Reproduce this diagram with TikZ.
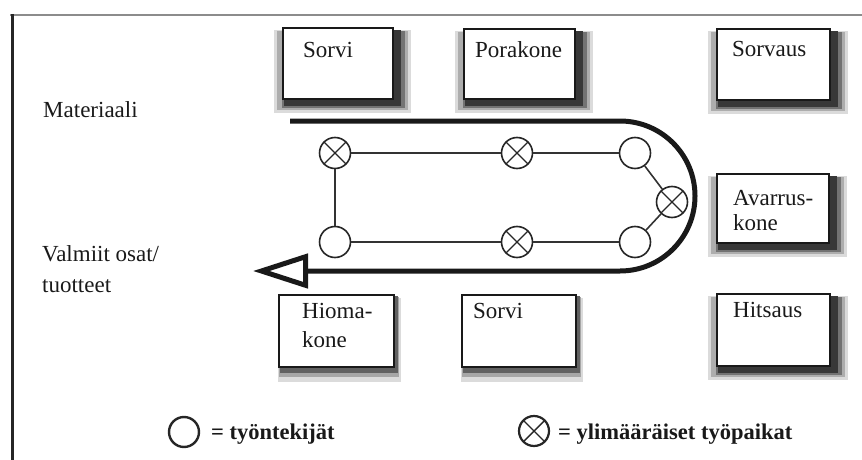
\documentclass[tikz,border=0pt]{standalone}
\usepackage{fontspec}
\setmainfont{Liberation Serif}
\usetikzlibrary{arrows.meta,backgrounds}

\tikzset{
  machine/.style={draw=black!90, line width=2.4pt, fill=white, rectangle, inner sep=0pt},
  lbl/.style={inner sep=0pt, anchor=base west, text=black!90,
    font=\fontsize{23}{28}\selectfont},
  legendtxt/.style={inner sep=0pt, anchor=base west, text=black!90,
    font=\fontsize{22.5}{27}\selectfont\bfseries},
  worker/.style={circle, draw=black!85, line width=1.6pt, fill=white,
    minimum size=31pt, inner sep=0pt},
  extra/.style={worker,
    path picture={
      \draw[black!85, line width=1.4pt]
        ([shift={(-11pt,-11pt)}]path picture bounding box.center) --
        ([shift={(11pt,11pt)}]path picture bounding box.center)
        ([shift={(-11pt,11pt)}]path picture bounding box.center) --
        ([shift={(11pt,-11pt)}]path picture bounding box.center);}},
  link/.style={draw=black!80, line width=1.6pt},
  conveyor/.style={draw=black!90, line width=5pt, line join=miter,
    -{Triangle[open, length=55pt, width=34pt]}},
}

\begin{document}
\begin{tikzpicture}[x=1pt, y=-1pt]
  \useasboundingbox (0,0) rectangle (862,460);

  % frame
  \draw[black!45, line width=1.5pt] (10,15) -- (862,15);
  \draw[black!85, line width=3pt] (12,14) -- (12,460);

  % machines, upper row
  \node[machine, minimum width=110pt, minimum height=71pt] (sorvi1) at (338,63.5) {};
  \node[machine, minimum width=111pt, minimum height=70pt] (pora) at (519.5,64) {};
  \node[machine, minimum width=113pt, minimum height=71pt] (sorvaus) at (773.5,64.5) {};
  % machine on the right
  \node[machine, minimum width=112pt, minimum height=69pt] (avarrus) at (773,208.5) {};
  % machines, lower row
  \node[machine, minimum width=115pt, minimum height=72pt] (hioma) at (336.5,331) {};
  \node[machine, minimum width=114pt, minimum height=72pt] (sorvi2) at (519,331) {};
  \node[machine, minimum width=113pt, minimum height=72pt] (hitsaus) at (773.5,330) {};

  % shadows behind the machines, graded from light (outside) to dark (inside)
  \begin{pgfonlayer}{background}
    \foreach \m in {sorvi1,pora,sorvaus,avarrus,hitsaus}{
      \foreach \ax/\ay/\bx/\by/\g in {-8/-3/17/-13/14, -5/-4/14/-10/32,
                                      0/-4/11/-8/55, 2/-3/7/-6/78}{
        \fill[black!\g] ([xshift=\ax pt, yshift=\ay pt]\m.north west)
          rectangle ([xshift=\bx pt, yshift=\by pt]\m.south east);
      }
    }
    \foreach \m in {hioma,sorvi2}{
      \foreach \ax/\ay/\bx/\by/\g in {0/-4/6/-14/14, 1/-3/4/-9/35, 2/-2/3/-5/62}{
        \fill[black!\g] ([xshift=\ax pt, yshift=\ay pt]\m.north west)
          rectangle ([xshift=\bx pt, yshift=\by pt]\m.south east);
      }
    }
  \end{pgfonlayer}

  % machine names
  \node[lbl] (tsorvi1) at (303,58) {Sorvi};
  \node[lbl] (tpora) at (475,58) {Porakone};
  \node[lbl] (tsorvaus) at (732,57) {Sorvaus};
  \node[lbl] (tavarrus1) at (733,205) {Avarrus-};
  \node[lbl] (tavarrus2) at (733,230) {kone};
  \node[lbl] (thioma1) at (302,318) {Hioma-};
  \node[lbl] (thioma2) at (302,347) {kone};
  \node[lbl] (tsorvi2) at (473,318) {Sorvi};
  \node[lbl] (thitsaus) at (733,317) {Hitsaus};

  % material in and products out
  \node[lbl] (tmat) at (43,117) {Materiaali};
  \node[lbl] (tout1) at (42,261) {Valmiit osat/};
  \node[lbl] (tout2) at (42,292) {tuotteet};

  % material flow
  \coordinate (flowin) at (290,121);
  \coordinate (flowbend) at (620,121);
  \coordinate (flowout) at (253,271);
  \draw[conveyor] (flowin) -- (flowbend)
    arc[start angle=90, end angle=-90, radius=75pt] -- (flowout);

  % work stations
  \node[extra]  (w1) at (335,153) {};
  \node[extra]  (w2) at (517,153) {};
  \node[worker] (w3) at (635,153) {};
  \node[extra]  (w4) at (672,202) {};
  \node[worker] (w5) at (635,242) {};
  \node[extra]  (w6) at (517,242) {};
  \node[worker] (w7) at (335,242) {};

  \draw[link] (w1) -- (w2);
  \draw[link] (w2) -- (w3);
  \draw[link] (w3) -- (w4);
  \draw[link] (w4) -- (w5);
  \draw[link] (w5) -- (w6);
  \draw[link] (w6) -- (w7);
  \draw[link] (w7) -- (w1);

  % legend
  \node[worker, line width=2.4pt, minimum size=30pt] (keyw) at (184,432) {};
  \node[legendtxt] (tkeyw) at (211,439) {= työntekijät};
  \node[extra, line width=2.2pt, minimum size=30pt] (keyx) at (534,431) {};
  \node[legendtxt] (tkeyx) at (558,439) {= ylimääräiset työpaikat};
\end{tikzpicture}
\end{document}
